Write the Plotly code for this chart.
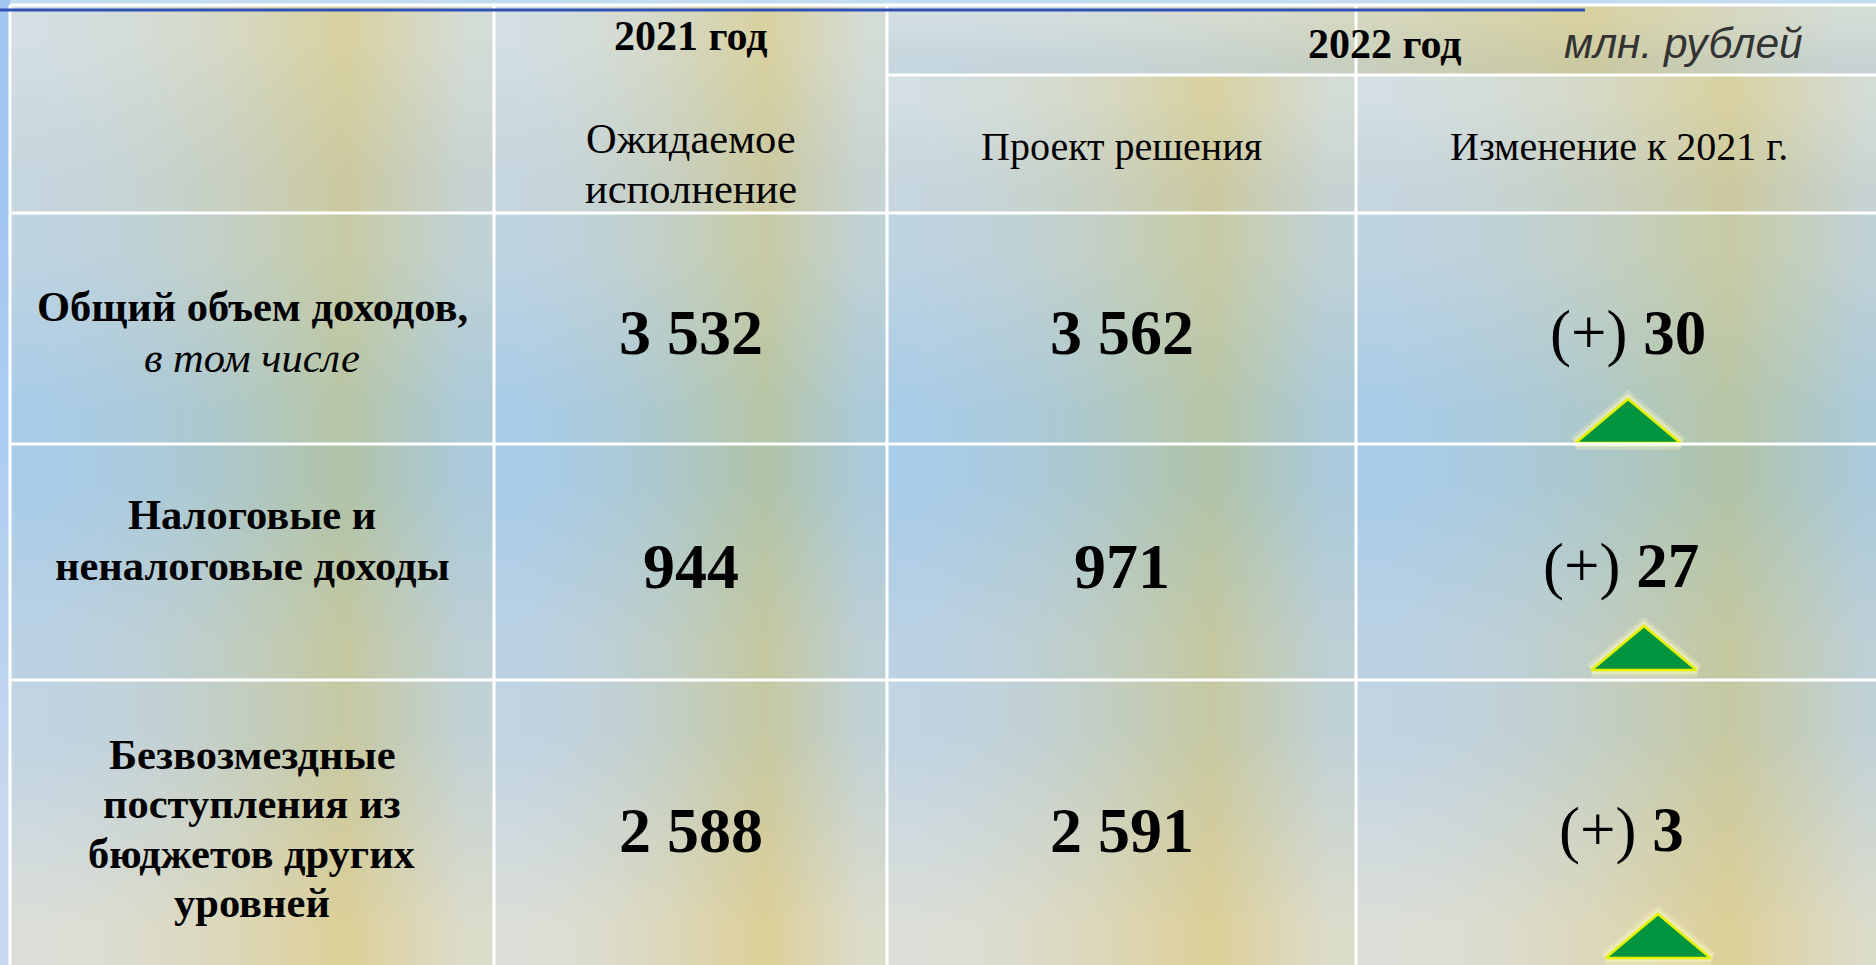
import base64
import struct
import zlib
import plotly.graph_objects as go

# ---------------- data ----------------
row_labels = [
    ["<b>Общий объем доходов,</b>", "<i>в том числе</i>"],
    ["<b>Налоговые и</b>", "<b>неналоговые доходы</b>"],
    ["<b>Безвозмездные</b>", "<b>поступления из</b>", "<b>бюджетов других</b>", "<b>уровней</b>"],
]
expected_2021 = [3532, 944, 2588]
project_2022 = [3562, 971, 2591]
change_vs_2021 = [30, 27, 3]

year_2021 = "2021 год"
year_2022 = "2022 год"
units = "млн. рублей"
sub_2021 = ["Ожидаемое", "исполнение"]
sub_2022 = ["Проект решения", "Изменение к 2021 г."]

# ---------------- layout geometry (pixels) ----------------
W, H = 1876, 965
col_edges = [10, 494, 887, 1356, 1895]
row_edges = [5, 213, 444, 680, 972]
header_split = 75
label_y = [[306, 357], [514, 565], [754, 803, 853, 902]]
change_x = [1628, 1621, 1621]
value_dy = 4

SERIF = "Liberation Serif"
SANS = "Liberation Sans"


def hex2rgb(h):
    h = h.lstrip("#")
    return tuple(int(h[i:i + 2], 16) for i in (0, 2, 4))


def png_uri(pixels):
    h = len(pixels)
    w = len(pixels[0])
    raw = b"".join(b"\x00" + bytes(c for px in row for c in px) for row in pixels)

    def chunk(t, d):
        return struct.pack(">I", len(d)) + t + d + struct.pack(">I", zlib.crc32(t + d) & 0xFFFFFFFF)

    png = (b"\x89PNG\r\n\x1a\n"
           + chunk(b"IHDR", struct.pack(">IIBBBBB", w, h, 8, 2, 0, 0, 0))
           + chunk(b"IDAT", zlib.compress(raw))
           + chunk(b"IEND", b""))
    return "data:image/png;base64," + base64.b64encode(png).decode()


# horizontal profile of the yellow band inside each cell (0 = edge tint, 1 = band tint)
profile = [0.0, 0.1, 0.25, 0.45, 0.72, 1.0, 0.6, 0.2]

# per table band: (top edge, top band, bottom edge, bottom band)
tints = {
    "head": ("#d3dfe3", "#d9d2a0", "#c6d6de", "#cbc9a0"),
    "r1": ("#bfd4e2", "#c8cba4", "#a9cce7", "#b7c6a6"),
    "r2": ("#a9cce8", "#b1c4a8", "#bcd2e4", "#c5c8a0"),
    "r3": ("#c0d4e4", "#c6c9a2", "#dcdfd8", "#ddd098"),
}


def cell_image(key):
    te, tb, be, bb = [hex2rgb(c) for c in tints[key]]
    rows = []
    for v in (0.0, 0.5, 1.0):
        edge = [te[i] + (be[i] - te[i]) * v for i in range(3)]
        band = [tb[i] + (bb[i] - tb[i]) * v for i in range(3)]
        rows.append([tuple(int(round(edge[i] + (band[i] - edge[i]) * p)) for i in range(3)) for p in profile])
    return png_uri(rows)


images = []


def add_cell(x0, x1, y0, y1, key):
    images.append(dict(source=cell_image(key), xref="x", yref="y", x=x0, y=y0,
                       sizex=x1 - x0, sizey=y1 - y0, xanchor="left", yanchor="top",
                       sizing="stretch", layer="below"))


# header cells
add_cell(col_edges[0], col_edges[1], row_edges[0], row_edges[1], "head")
add_cell(col_edges[1], col_edges[2], row_edges[0], row_edges[1], "head")
add_cell(col_edges[2], col_edges[4], row_edges[0], header_split, "head")
add_cell(col_edges[2], col_edges[3], header_split, row_edges[1], "head")
add_cell(col_edges[3], col_edges[4], header_split, row_edges[1], "head")
for r, key in enumerate(["r1", "r2", "r3"]):
    for c in range(4):
        add_cell(col_edges[c], col_edges[c + 1], row_edges[r + 1], row_edges[r + 2], key)

# left and top page strips
images.append(dict(source=png_uri([[hex2rgb("#a0c6f2")], [hex2rgb("#b0cff2")], [hex2rgb("#c8d8ee")]]),
                   xref="x", yref="y", x=0, y=0, sizex=col_edges[0], sizey=H,
                   xanchor="left", yanchor="top", sizing="stretch", layer="below"))

shapes = []
shapes.append(dict(type="rect", xref="x", yref="y", x0=col_edges[0], x1=W + 20, y0=-5, y1=row_edges[0],
                   fillcolor="#c4dcf0", line=dict(width=0), layer="below"))

WHITE = dict(color="white", width=3)
for x in col_edges[:4]:
    shapes.append(dict(type="line", xref="x", yref="y", x0=x, x1=x, y0=row_edges[0], y1=H + 10, line=WHITE))
for y in row_edges[:4]:
    shapes.append(dict(type="line", xref="x", yref="y", x0=col_edges[0], x1=W + 20, y0=y, y1=y, line=WHITE))
shapes.append(dict(type="line", xref="x", yref="y", x0=col_edges[2], x1=W + 20, y0=header_split,
                   y1=header_split, line=WHITE))
# blue title rule
shapes.append(dict(type="line", xref="x", yref="y", x0=0, x1=1585, y0=10, y1=10,
                   line=dict(color="#3050b4", width=3)))

annotations = []


def txt(x, y, s, size, family=SERIF, color="black"):
    annotations.append(dict(x=x, y=y, xref="x", yref="y", text=s, showarrow=False,
                            xanchor="center", yanchor="middle",
                            font=dict(family=family, size=size, color=color)))


col_c = [(col_edges[i] + col_edges[i + 1]) / 2 for i in range(4)]

txt(col_c[1], 36, "<b>%s</b>" % year_2021, 42)
txt(1385, 44, "<b>%s</b>" % year_2022, 42)
txt(1683, 43, "<i>%s</i>" % units, 42.5, SANS, "#333333")
txt(col_c[1], 138, sub_2021[0], 42.5)
txt(col_c[1], 188, sub_2021[1], 42.5)
txt(col_c[2], 146, sub_2022[0], 40)
txt(1619, 146, sub_2022[1], 40)


def fmt(v):
    return "{:,}".format(v).replace(",", " ")


fig = go.Figure()

for r in range(3):
    for line, y in zip(row_labels[r], label_y[r]):
        txt(252, y, line, 42.5)
    yc = (row_edges[r + 1] + row_edges[r + 2]) / 2 + value_dy
    txt(col_c[1], yc, "<b>%s</b>" % fmt(expected_2021[r]), 64)
    txt(col_c[2], yc, "<b>%s</b>" % fmt(project_2022[r]), 64)
    txt(change_x[r], yc, "(+) <b>%s</b>" % fmt(change_vs_2021[r]), 63)

# green "increase" triangles, placed just above each row's bottom border
tri_cx = [1628, 1644, 1658]
tri_gap = [1, 10, 14]
tri_w, tri_h = 105, 44
for r in range(3):
    if change_vs_2021[r] <= 0:
        continue
    base = row_edges[r + 2] - tri_gap[r]
    cx = tri_cx[r]
    xs = [cx - tri_w / 2, cx, cx + tri_w / 2, cx - tri_w / 2]
    ys = [base, base - tri_h, base, base]
    for wdt, col in [(14, "rgba(245,245,195,0.3)"), (8, "rgba(245,245,185,0.55)")]:
        fig.add_trace(go.Scatter(x=xs, y=ys, mode="lines", line=dict(color=col, width=wdt),
                                 hoverinfo="skip", showlegend=False))
    fig.add_trace(go.Scatter(x=xs, y=ys, mode="lines", fill="toself", fillcolor="#009340",
                             line=dict(color="#e6f200", width=2.5), hoverinfo="skip", showlegend=False))

fig.update_layout(
    width=W, height=H, margin=dict(l=0, r=0, t=0, b=0),
    paper_bgcolor="#c4dcf0", plot_bgcolor="rgba(0,0,0,0)",
    xaxis=dict(range=[0, W], visible=False, fixedrange=True),
    yaxis=dict(range=[H, 0], visible=False, fixedrange=True),
    images=images, shapes=shapes, annotations=annotations,
    showlegend=False,
)

fig.write_html("out.html", config={"displayModeBar": False},
               post_script="document.body.style.margin='0';document.body.style.overflow='hidden';")
